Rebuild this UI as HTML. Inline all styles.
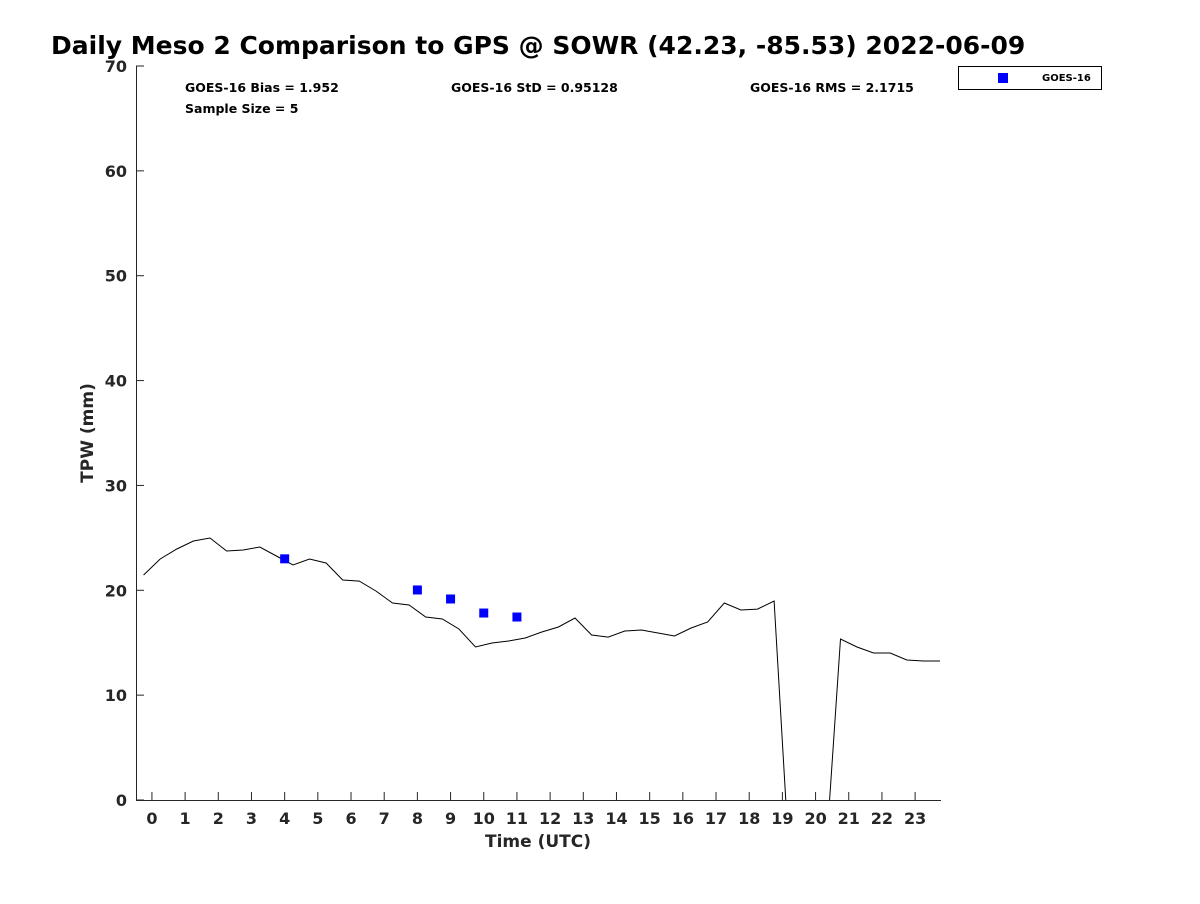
<!DOCTYPE html>
<html><head><meta charset="utf-8"><style>
body{margin:0;background:#fff;font-family:"DejaVu Sans","Liberation Sans",sans-serif}
svg text{font-family:"DejaVu Sans","Liberation Sans",sans-serif;font-weight:bold}
</style></head><body>
<svg id="chart" width="1200" height="900" viewBox="0 0 1200 900">
<rect width="1200" height="900" fill="#fff"/>
<text x="51" y="54" font-size="25" fill="#000">Daily Meso 2 Comparison to GPS @ SOWR (42.23, -85.53) 2022-06-09</text>
<defs><clipPath id="pc"><rect x="136" y="66" width="805" height="734"/></clipPath></defs>
<g id="plot" clip-path="url(#pc)"></g>
<g id="axes"></g>
<text x="185" y="92" font-size="12.5">GOES-16 Bias = 1.952</text>
<text x="185" y="113" font-size="12.5">Sample Size = 5</text>
<text x="451" y="92" font-size="12.5">GOES-16 StD = 0.95128</text>
<text x="750" y="92" font-size="12.5">GOES-16 RMS = 2.1715</text>
<g>
<rect x="958.5" y="66.5" width="143" height="23" fill="#fff" stroke="#000" stroke-width="1"/>
<rect x="998" y="73" width="10" height="10" fill="#0000ff"/>
<text x="1042" y="81" font-size="10">GOES-16</text>
</g>
<text x="538" y="847" font-size="17" text-anchor="middle" fill="#262626">Time (UTC)</text>
<text transform="translate(93,433) rotate(-90)" font-size="17" text-anchor="middle" fill="#262626">TPW (mm)</text>
</svg>
<script>
const gpsTimes=[-0.25,0.25,0.75,1.25,1.75,2.25,2.75,3.25,3.75,4.25,4.75,5.25,5.75,6.25,6.75,7.25,7.75,8.25,8.75,9.25,9.75,10.25,10.75,11.25,11.75,12.25,12.75,13.25,13.75,14.25,14.75,15.25,15.75,16.25,16.75,17.25,17.75,18.25,18.75,19.25,19.75,20.25,20.75,21.25,21.75,22.25,22.75,23.25,23.75];
const gpsValues=[21.46,22.98,23.94,24.70,24.99,23.75,23.84,24.13,23.27,22.41,22.98,22.60,20.98,20.88,19.93,18.79,18.60,17.45,17.26,16.31,14.59,14.97,15.16,15.45,16.02,16.50,17.36,15.74,15.54,16.12,16.21,15.93,15.64,16.40,16.98,18.79,18.12,18.21,18.98,-8,-8,-8,15.35,14.59,14.02,14.02,13.35,13.26,13.26];
const goesTimes=[4,8,9,10,11];
const goesValues=[23.0,20.03,19.17,17.83,17.45];
const xTicks=[0,1,2,3,4,5,6,7,8,9,10,11,12,13,14,15,16,17,18,19,20,21,22,23];
const yTicks=[0,10,20,30,40,50,60,70];
const NS="http://www.w3.org/2000/svg";
const X0=136,X1=941,Y0=800,Y1=66,xmin=-0.48,xmax=23.78,ymin=0,ymax=70;
const xs=t=>X0+(t-xmin)/(xmax-xmin)*(X1-X0);
const ys=v=>Y0-(v-ymin)/(ymax-ymin)*(Y0-Y1);
function mk(tag,at,parent){const e=document.createElementNS(NS,tag);for(const k in at)e.setAttribute(k,at[k]);parent.appendChild(e);return e;}
const plot=document.getElementById('plot'),axes=document.getElementById('axes');
const line=mk('polyline',{points:gpsTimes.map((t,i)=>xs(t).toFixed(1)+','+ys(gpsValues[i]).toFixed(1)).join(' '),fill:'none',stroke:'#000','stroke-width':1},plot);


goesTimes.forEach((t,i)=>{
 const r=mk('rect',{x:xs(t)-4.5,y:ys(goesValues[i])-4.5,width:9,height:9,fill:'#0000ff'},plot);
 
 
});
mk('line',{x1:X0,y1:Y0+0.5,x2:X1,y2:Y0+0.5,stroke:'#262626','stroke-width':1},axes);
mk('line',{x1:X0+0.5,y1:Y1,x2:X0+0.5,y2:Y0,stroke:'#262626','stroke-width':1},axes);
xTicks.forEach(t=>{
 const x=xs(t);
 mk('line',{x1:x,y1:Y0,x2:x,y2:Y0-8,stroke:'#262626'},axes);
 const tx=mk('text',{x:x,y:Y0+24,'font-size':16,'text-anchor':'middle',fill:'#262626'},axes);
 tx.textContent=t;
 
 
});
yTicks.forEach(v=>{
 const y=ys(v);
 mk('line',{x1:X0,y1:y,x2:X0+8,y2:y,stroke:'#262626'},axes);
 const tx=mk('text',{x:X0-9,y:y+6,'font-size':16,'text-anchor':'end',fill:'#262626'},axes);
 tx.textContent=v;
 
 
});
</script>
</body></html>
